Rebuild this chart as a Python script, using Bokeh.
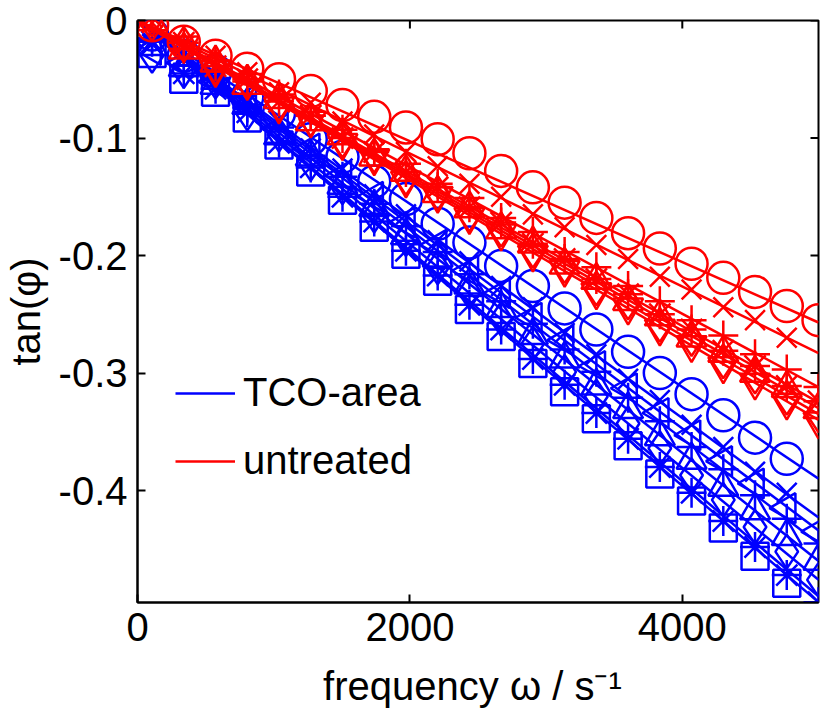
import numpy as np
from bokeh.plotting import figure
from bokeh.models import Range1d, FixedTicker, Legend, LegendItem, CustomJSTickFormatter
from bokeh.embed import file_html
from bokeh.resources import INLINE

# ---------------- data ----------------
freq = [107, 340, 573, 806, 1039, 1272, 1505, 1738, 1971, 2204, 2437,
        2670, 2903, 3136, 3369, 3602, 3835, 4068, 4301, 4534, 4767, 5000]

# TCO-area (blue)
b_circle = [-0.012, -0.030, -0.043, -0.065, -0.079, -0.101, -0.116, -0.137, -0.152, -0.173, -0.189,
            -0.209, -0.226, -0.245, -0.263, -0.282, -0.300, -0.318, -0.336, -0.355, -0.373]
b_x = [-0.020, -0.033, -0.046, -0.070, -0.086, -0.109, -0.126, -0.148, -0.165, -0.187, -0.205,
       -0.226, -0.244, -0.266, -0.284, -0.305, -0.323, -0.344, -0.363, -0.384, -0.402]
b_tleft = [-0.025, -0.036, -0.052, -0.068, -0.092, -0.109, -0.132, -0.150, -0.172, -0.191, -0.213,
           -0.232, -0.253, -0.272, -0.294, -0.313, -0.334, -0.353, -0.375, -0.394, -0.415, -0.435]
b_plus = [-0.015, -0.038, -0.049, -0.074, -0.091, -0.115, -0.133, -0.156, -0.175, -0.197, -0.216,
          -0.239, -0.258, -0.280, -0.299, -0.321, -0.341, -0.363, -0.382, -0.404, -0.424, -0.445]
b_tup = [-0.022, -0.040, -0.055, -0.072, -0.098, -0.116, -0.140, -0.159, -0.183, -0.202, -0.225,
         -0.245, -0.268, -0.288, -0.311, -0.331, -0.354, -0.374, -0.397, -0.417, -0.439, -0.460]
b_diamond = [-0.030, -0.043, -0.052, -0.079, -0.097, -0.122, -0.142, -0.166, -0.186, -0.210, -0.231,
             -0.254, -0.275, -0.299, -0.320, -0.343, -0.364, -0.387, -0.408, -0.431, -0.452, -0.476]
b_star = [-0.018, -0.045, -0.058, -0.078, -0.104, -0.125, -0.150, -0.171, -0.196, -0.217, -0.242,
          -0.263, -0.288, -0.310, -0.334, -0.356, -0.380, -0.402, -0.426, -0.448, -0.472, -0.495]
b_square = [-0.028, -0.050, -0.061, -0.083, -0.106, -0.129, -0.153, -0.176, -0.199, -0.222, -0.246,
            -0.269, -0.292, -0.316, -0.339, -0.362, -0.386, -0.409, -0.432, -0.456, -0.479]

# untreated (red)
r_circle = [-0.004, -0.018, -0.030, -0.041, -0.050, -0.060, -0.072, -0.082, -0.091, -0.101, -0.113,
            -0.128, -0.142, -0.155, -0.168, -0.181, -0.194, -0.207, -0.219, -0.231, -0.243, -0.255]
r_x = [-0.002, -0.022, -0.030, -0.044, -0.061, -0.070, -0.086, -0.097, -0.112, -0.124, -0.139,
       -0.150, -0.165, -0.176, -0.191, -0.203, -0.218, -0.229, -0.244, -0.255, -0.270]
r_plus = [0.002, -0.024, -0.034, -0.052, -0.063, -0.081, -0.093, -0.110, -0.122, -0.139, -0.151,
          -0.168, -0.180, -0.197, -0.210, -0.226, -0.239, -0.255, -0.268, -0.284, -0.297, -0.312]
r_star = [0.003, -0.019, -0.039, -0.050, -0.069, -0.081, -0.100, -0.112, -0.129, -0.142, -0.159,
          -0.172, -0.190, -0.203, -0.220, -0.233, -0.250, -0.263, -0.281, -0.294, -0.311, -0.324]
r_tup = [-0.001, -0.025, -0.036, -0.055, -0.067, -0.086, -0.098, -0.116, -0.129, -0.147, -0.160,
         -0.178, -0.190, -0.208, -0.221, -0.239, -0.252, -0.270, -0.283, -0.300, -0.313, -0.331]
r_tdown = [0.001, -0.021, -0.042, -0.053, -0.073, -0.085, -0.104, -0.117, -0.136, -0.149, -0.167,
           -0.181, -0.199, -0.212, -0.231, -0.244, -0.262, -0.276, -0.294, -0.308, -0.325, -0.341]
r_diamond = [-0.003, -0.020, -0.040, -0.052, -0.071, -0.084, -0.102, -0.115, -0.134, -0.147, -0.165,
             -0.178, -0.196, -0.209, -0.228, -0.240, -0.259, -0.271, -0.290, -0.303, -0.321, -0.336]

# linear fits: value of tan(phi) at omega = 5000 s^-1
fit_freq = [0, 5000]
blue_fit_end = [-0.390, -0.423, -0.434, -0.445, -0.460, -0.476, -0.495, -0.490]
red_fit_end = [-0.257, -0.283, -0.312, -0.325, -0.330, -0.340, -0.335]

blue_series = [b_circle, b_x, b_tleft, b_plus, b_tup, b_diamond, b_star, b_square]
red_series = [r_circle, r_x, r_plus, r_star, r_tup, r_tdown, r_diamond]

x_min, x_max = 0, 5000
y_min, y_max = -0.4953, 0
x_ticks = [0, 2000, 4000]
y_ticks = [0, -0.1, -0.2, -0.3, -0.4]
legend_labels = ["TCO-area", "untreated"]

# ---------------- styling ----------------
BLUE = "#0000ff"
RED = "#ff0000"
FONT = "Liberation Sans"
blue_markers = [("circle", 0), ("x", 0), ("triangle", np.pi / 2), ("cross", 0),
                ("triangle", 0), ("diamond", 0), ("asterisk", 0), ("square", 0)]
red_markers = [("circle", 0), ("x", 0), ("cross", 0), ("asterisk", 0),
               ("triangle", 0), ("inverted_triangle", 0), ("diamond", 0)]
msize = {"circle": 32, "x": 28, "cross": 30, "asterisk": 30, "triangle": 30,
         "inverted_triangle": 30, "diamond": 34, "square": 27}

p = figure(width=834, height=716, output_backend="svg", toolbar_location=None,
           x_range=Range1d(x_min, x_max), y_range=Range1d(y_min, y_max),
           min_border_left=137, min_border_right=16, min_border_top=20, min_border_bottom=114)
p.background_fill_color = "white"
p.border_fill_color = "white"
p.grid.visible = False
p.outline_line_color = "black"
p.outline_line_width = 2

LW = 2.5


def draw(series, markers, fits, color):
    lines = []
    for ys, (mk, ang), fe in zip(series, markers, fits):
        xs = freq[:len(ys)]
        p.scatter(xs, ys, marker=mk, angle=ang, size=msize[mk], fill_color=None,
                  line_color=color, line_width=LW)
        r = p.line(fit_freq, [0, fe], line_color=color, line_width=LW)
        lines.append(r)
    return lines


blue_lines = draw(blue_series, blue_markers, blue_fit_end, BLUE)
red_lines = draw(red_series, red_markers, red_fit_end, RED)

# mirrored inward ticks on the top and right edges (half of each dash is clipped by the frame)
p.scatter(x_ticks, [y_max] * len(x_ticks), marker="dash", angle=np.pi / 2, size=16,
          line_color="black", line_width=2)
p.scatter([x_max] * len(y_ticks), y_ticks, marker="dash", size=16,
          line_color="black", line_width=2)

# axes
for ax in [p.xaxis[0], p.yaxis[0]]:
    ax.axis_line_width = 2
    ax.major_tick_line_width = 2
    ax.major_tick_in = 8
    ax.major_tick_out = 0
    ax.minor_tick_line_color = None
    ax.major_label_text_font = FONT
    ax.major_label_text_font_size = "40px"
    ax.major_label_text_color = "black"
    ax.axis_label_text_font = FONT
    ax.axis_label_text_font_size = "40px"
    ax.axis_label_text_font_style = "normal"
    ax.axis_label_text_color = "black"
    ax.major_label_standoff = 10

p.xaxis[0].ticker = FixedTicker(ticks=x_ticks)
p.yaxis[0].ticker = FixedTicker(ticks=y_ticks)
p.yaxis[0].formatter = CustomJSTickFormatter(code="return tick == 0 ? '0' : tick.toFixed(1);")
p.xaxis[0].axis_label = "frequency \u03c9  / s\u207b\u00b9"
p.yaxis[0].axis_label = "tan(\u03c6)"
p.xaxis[0].axis_label_standoff = 20
p.yaxis[0].axis_label_standoff = 8

legend = Legend(items=[LegendItem(label=legend_labels[0], renderers=[blue_lines[0]]),
                       LegendItem(label=legend_labels[1], renderers=[red_lines[0]])],
                location=(38, 119), orientation="vertical",
                label_text_font=FONT, label_text_font_size="40px", label_text_color="black",
                glyph_width=60, glyph_height=40, label_standoff=8, spacing=23,
                padding=0, margin=0, border_line_alpha=0, background_fill_alpha=0)
p.add_layout(legend, "center")

open("out.html", "w").write(file_html(p, INLINE))
